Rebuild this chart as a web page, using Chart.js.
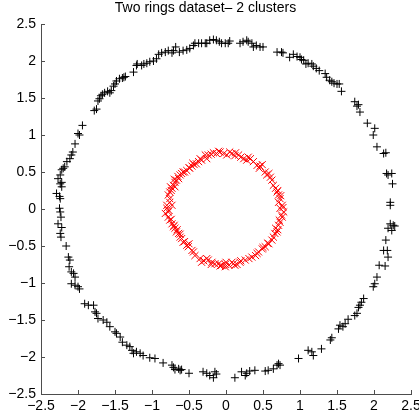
<!DOCTYPE html>
<html>
<head>
<meta charset="utf-8">
<script src="https://cdn.jsdelivr.net/npm/chart.js@4/dist/chart.umd.min.js"></script>
<style>
  body { margin: 0; background: #fff; }
  canvas { display: block; }
</style>
</head>
<body>
<canvas id="ringsChart" width="419" height="416"></canvas>
<script>
'use strict';

var chartTitle = 'Two rings dataset\u2013 2 clusters';
var tickMin = -2.5;
var tickMax = 2.5;
var tickStep = 0.5;

// outer ring (cluster 1, black +)
var outerX = [
  -2.00, -1.98, -1.94, -1.78, -1.75, -1.73, -1.71, -1.69, -1.67, -1.64, -1.60, -1.57, -1.55, -1.52, -1.50, -1.48,
  -1.44, -1.40, -1.38, -1.36, -1.25, -1.21, -1.20,
  -1.14, -1.11, -1.07, -1.03, -0.98, -0.94, -0.91, -0.87, -0.82, -0.78, -0.73, -0.71, -0.68, -0.63, -0.58, -0.53,
  -0.49, -0.44, -0.42, -0.37, -0.33, -0.28, -0.26, -0.22, -0.17, -0.13, -0.09, -0.06, -0.01, 0.03, 0.05, 0.19,
  0.23, 0.28, 0.30, 0.35, 0.37, 0.41, 0.46, 0.50, 0.69,
  0.75, 0.77, 0.86, 0.91, 0.96, 1.00, 1.02, 1.05, 1.08, 1.11, 1.16, 1.18, 1.22, 1.26, 1.34, 1.36, 1.40, 1.43,
  1.46, 1.50, 1.53, 1.56, 1.74, 1.77, 1.79, 1.81, 1.91, 2.01, 1.99,
  2.04, 2.13, 2.16, 2.17, 2.19, 2.24, 2.25, 2.22, 2.22, 2.22, 2.26, 2.28, 2.24, 2.19, 2.16, 2.13, 2.18, 2.19,
  2.07, 2.15, 2.04,
  2.01, 1.99, 1.86, 1.83, 1.81, 1.79, 1.77, 1.74, 1.65, 1.61, 1.58, 1.54, 1.52, 1.43, 1.41, 1.29, 1.16, 1.11,
  1.18, 0.98, 0.73,
  -1.16, -1.12, -1.03, -0.96, -0.85, -0.73, -0.71, -0.69, -0.64, -0.62, -0.60, -0.50, -0.31, -0.26, -0.22, -0.17,
  -0.13, -0.15, 0.12, 0.21, 0.26, 0.28, 0.32, 0.39, 0.53, 0.57, 0.64, 0.69, 0.71,
  -2.09, -2.04, -2.00, -1.98, -1.91, -1.86, -1.79, -1.77, -1.75, -1.73, -1.66, -1.61, -1.57, -1.50, -1.48, -1.43,
  -1.40, -1.34, -1.30, -1.27, -1.21, -1.25,
  -2.04, -2.07, -2.09, -2.11, -2.15, -2.18, -2.20, -2.22, -2.24, -2.27, -2.22, -2.24, -2.22, -2.29, -2.25, -2.24,
  -2.25, -2.24, -2.23, -2.27, -2.22, -2.24, -2.23, -2.16, -2.13, -2.11, -2.12, -2.09, -2.06, -2.04
];
var outerY = [
  1.02, 1.00, 1.13, 1.33, 1.35, 1.46, 1.49, 1.53, 1.55, 1.57, 1.59, 1.57, 1.60, 1.66, 1.69, 1.73,
  1.76, 1.77, 1.78, 1.79, 1.85, 1.94, 1.96,
  1.94, 1.96, 1.97, 1.99, 2.00, 2.03, 2.09, 2.11, 2.12, 2.14, 2.11, 2.14, 2.19, 2.12, 2.14, 2.15,
  2.17, 2.21, 2.24, 2.24, 2.24, 2.24, 2.24, 2.28, 2.29, 2.28, 2.26, 2.24, 2.24, 2.24, 2.27, 2.24,
  2.26, 2.28, 2.26, 2.24, 2.19, 2.21, 2.19, 2.19, 2.12,
  2.12, 2.11, 2.05, 2.09, 2.06, 2.05, 2.02, 2.01, 1.96, 1.97, 1.96, 1.93, 1.90, 1.87, 1.83, 1.78, 1.74, 1.72,
  1.70, 1.69, 1.69, 1.59, 1.45, 1.39, 1.41, 1.31, 1.16, 1.09, 1.00,
  0.84, 0.75, 0.76, 0.48, 0.46, 0.48, 0.34, 0.09, 0.05, -0.20, -0.22, -0.23, -0.29, -0.26, -0.42, -0.56, -0.56, -0.65,
  -0.76, -0.77, -0.92,
  -1.01, -1.05, -1.21, -1.26, -1.30, -1.33, -1.41, -1.44, -1.49, -1.55, -1.59, -1.57, -1.62, -1.74, -1.77, -1.89, -1.93, -1.91,
  -1.98, -2.02, -2.11,
  -1.95, -1.98, -2.01, -2.02, -2.08, -2.11, -2.14, -2.17, -2.16, -2.18, -2.17, -2.22, -2.20, -2.22, -2.25, -2.28,
  -2.23, -2.20, -2.28, -2.20, -2.25, -2.22, -2.19, -2.18, -2.19, -2.18, -2.16, -2.11, -2.09,
  -1.01, -1.03, -1.05, -1.08, -1.28, -1.30, -1.30, -1.39, -1.41, -1.48, -1.50, -1.53, -1.59, -1.66, -1.68, -1.73,
  -1.80, -1.84, -1.86, -1.91, -1.93, -1.95,
  0.88, 0.77, 0.73, 0.68, 0.64, 0.57, 0.55, 0.53, 0.46, 0.41, 0.36, 0.34, 0.30, 0.21, 0.17, 0.14,
  0.01, -0.04, -0.11, -0.20, -0.25, -0.33, -0.38, -0.50, -0.65, -0.69, -0.78, -0.85, -0.87, -0.92
];

// inner ring (cluster 2, red x)
var innerX = [
  -0.08, -0.13, -0.17, -0.24, -0.28, -0.26, -0.33, -0.37, -0.40, -0.43, -0.46, -0.49, -0.53, -0.58, -0.60, -0.62,
  -0.64, -0.67, -0.69, -0.71, -0.69, -0.73, -0.76, -0.78, -0.76, -0.76, -0.73, -0.80, -0.78, -0.82, -0.78, -0.76,
  -0.73, -0.71, -0.69, -0.67, -0.64, -0.62, -0.60, -0.58, -0.53, -0.51, -0.46, -0.44, -0.42, -0.35, -0.33, -0.26,
  -0.24, -0.19, -0.15, -0.10, -0.06, -0.01,
  -0.03, 0.01, 0.08, 0.13, 0.17, 0.24, 0.28, 0.33, 0.37, 0.42, 0.46, 0.49, 0.53, 0.58, 0.60, 0.62,
  0.64, 0.67, 0.69, 0.71, 0.73, 0.71, 0.76, 0.73, 0.78, 0.76, 0.73, 0.71, 0.67, 0.69, 0.64, 0.62,
  0.58, 0.53, 0.49, 0.44, 0.40, 0.35, 0.31, 0.26, 0.19, 0.15, 0.10, 0.04, -0.01,
  0.05, -0.10, 0.12, -0.20, 0.20, -0.65, -0.70, -0.74, -0.75, -0.80, -0.77, -0.74, -0.70, -0.66, -0.62, -0.56,
  -0.50, 0.70, 0.74, 0.77, 0.75, 0.72, 0.70, 0.66, 0.56, 0.50, 0.42, 0.55, 0.45, 0.30, 0.00, -0.08,
  0.08, 0.20, -0.30, -0.20, 0.12, -0.50, -0.56, -0.35, -0.45
];
var innerY = [
  0.77, 0.75, 0.76, 0.73, 0.73, 0.68, 0.66, 0.64, 0.61, 0.60, 0.58, 0.55, 0.52, 0.50, 0.48, 0.46,
  0.41, 0.39, 0.36, 0.32, 0.30, 0.28, 0.23, 0.19, 0.14, 0.09, 0.05, 0.01, -0.04, -0.06, -0.11, -0.15,
  -0.20, -0.24, -0.26, -0.31, -0.33, -0.38, -0.40, -0.45, -0.49, -0.51, -0.56, -0.58, -0.63, -0.67, -0.72, -0.67,
  -0.69, -0.72, -0.74, -0.74, -0.76, -0.75,
  0.75, 0.73, 0.75, 0.76, 0.73, 0.68, 0.66, 0.68, 0.64, 0.59, 0.58, 0.60, 0.50, 0.48, 0.43, 0.39,
  0.32, 0.28, 0.23, 0.19, 0.14, 0.09, 0.05, 0.01, -0.04, -0.11, -0.18, -0.22, -0.26, -0.31, -0.38, -0.42,
  -0.47, -0.51, -0.54, -0.58, -0.63, -0.65, -0.67, -0.69, -0.72, -0.75, -0.74, -0.76, -0.78,
  0.77, 0.78, 0.72, 0.74, 0.70, 0.44, 0.40, 0.25, 0.30, 0.05, -0.02, -0.14, -0.22, -0.28, -0.34, -0.44,
  -0.47, 0.25, 0.18, 0.02, -0.08, -0.15, -0.28, -0.33, -0.46, -0.52, -0.60, 0.46, 0.55, 0.70, -0.72, -0.77,
  -0.72, -0.70, -0.70, -0.75, -0.76, 0.56, 0.50, 0.68, 0.62
];

function toPoints(xs, ys) {
  var pts = [];
  for (var i = 0; i < xs.length; i++) {
    pts.push({ x: xs[i], y: ys[i] });
  }
  return pts;
}

function fmtTick(value) {
  var v = Math.round(value * 10) / 10;
  if (v < 0) {
    return '\u2212' + String(-v);
  }
  return String(v);
}

var axisColor = '#4d4d4d';
var fontFamily = '"Liberation Sans", Arial, Helvetica, sans-serif';

// MATLAB style ticks pointing into the plot area
var inwardTicks = {
  id: 'inwardTicks',
  afterDatasetsDraw: function(chart) {
    var ctx = chart.ctx;
    var xs = chart.scales.x;
    var ys = chart.scales.y;
    var area = chart.chartArea;
    ctx.save();
    ctx.strokeStyle = axisColor;
    ctx.lineWidth = 1;
    ctx.beginPath();
    xs.ticks.forEach(function(t) {
      var px = Math.round(xs.getPixelForValue(t.value)) + 0.5;
      ctx.moveTo(px, area.bottom);
      ctx.lineTo(px, area.bottom - 4);
    });
    ys.ticks.forEach(function(t) {
      var py = Math.round(ys.getPixelForValue(t.value)) + 0.5;
      ctx.moveTo(area.left, py);
      ctx.lineTo(area.left + 4, py);
    });
    ctx.stroke();
    ctx.restore();
  }
};

var ctx = document.getElementById('ringsChart').getContext('2d');
var chart = new Chart(ctx, {
  type: 'scatter',
  data: {
    datasets: [
      {
        label: 'cluster 1',
        data: toPoints(outerX, outerY),
        pointStyle: 'cross',
        pointRadius: 4,
        pointBorderWidth: 1,
        borderColor: '#000000',
        backgroundColor: '#000000'
      },
      {
        label: 'cluster 2',
        data: toPoints(innerX, innerY),
        pointStyle: 'crossRot',
        pointRadius: 5,
        pointBorderWidth: 1,
        borderColor: '#ff0000',
        backgroundColor: '#ff0000'
      }
    ]
  },
  options: {
    responsive: false,
    animation: false,
    layout: { padding: { left: 0, right: 8, top: 0, bottom: 0 } },
    plugins: {
      legend: { display: false },
      tooltip: { enabled: false },
      title: {
        display: true,
        text: chartTitle,
        color: '#000000',
        font: { family: fontFamily, size: 14, weight: 'normal' },
        padding: { top: 0, bottom: 7.2 }
      }
    },
    scales: {
      x: {
        type: 'linear',
        min: tickMin,
        max: tickMax,
        grid: { display: true, drawOnChartArea: false, drawTicks: false },
        border: { display: true, color: axisColor, width: 1 },
        ticks: {
          stepSize: tickStep,
          padding: 4,
          color: '#000000',
          font: { family: fontFamily, size: 14 },
          maxRotation: 0,
          autoSkip: false,
          callback: fmtTick
        },
        afterFit: function(scale) {
          scale.height = 22;
          scale.paddingLeft = 0;
          scale.paddingRight = 0;
        }
      },
      y: {
        type: 'linear',
        min: tickMin,
        max: tickMax,
        grid: { display: true, drawOnChartArea: false, drawTicks: false },
        border: { display: true, color: axisColor, width: 1 },
        ticks: {
          stepSize: tickStep,
          padding: 5,
          color: '#000000',
          font: { family: fontFamily, size: 14 },
          autoSkip: false,
          callback: fmtTick
        },
        afterFit: function(scale) {
          scale.width = 41;
          scale.paddingTop = 0;
          scale.paddingBottom = 0;
        }
      }
    }
  },
  plugins: [inwardTicks]
});
</script>
</body>
</html>
